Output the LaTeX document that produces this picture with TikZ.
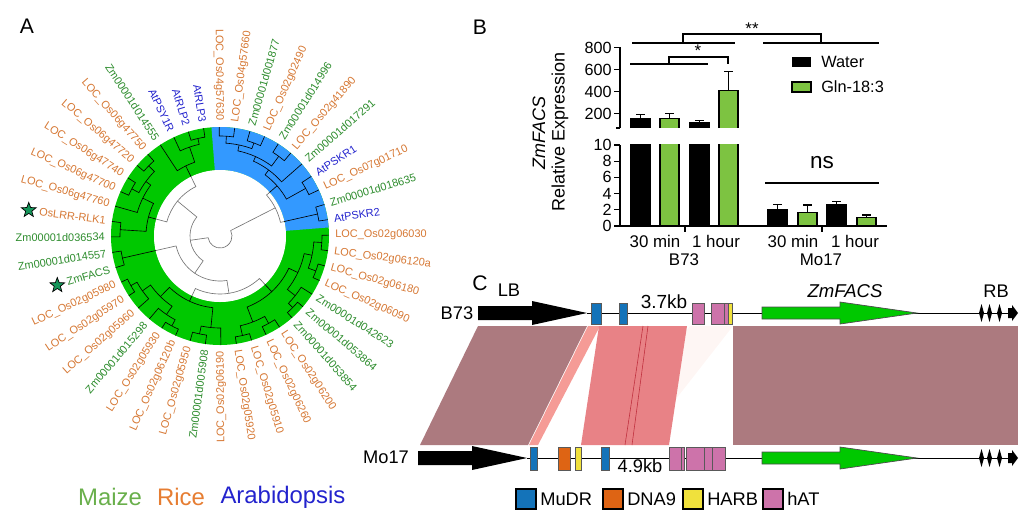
\documentclass[tikz,border=0pt]{standalone}
\usepackage{fontspec}
\setmainfont{Liberation Sans}
\usetikzlibrary{shapes.geometric}

\definecolor{ricetxt}{RGB}{214,120,52}
\definecolor{maizetxt}{RGB}{45,140,45}
\definecolor{arabtxt}{RGB}{35,35,205}
\definecolor{ringgreen}{RGB}{0,200,0}
\definecolor{ringblue}{RGB}{51,153,255}
\definecolor{stargreen}{RGB}{20,150,90}
\definecolor{legmaize}{RGB}{105,175,75}
\definecolor{legrice}{RGB}{230,125,50}
\definecolor{bargreen}{RGB}{125,195,65}
\definecolor{synmauve}{RGB}{172,122,127}
\definecolor{synpink}{RGB}{232,130,134}
\definecolor{synsalmon}{RGB}{245,155,150}
\definecolor{synfaint}{RGB}{254,246,244}
\definecolor{synred}{RGB}{190,45,60}
\definecolor{mudr}{RGB}{20,115,185}
\definecolor{dnanine}{RGB}{222,100,20}
\definecolor{harb}{RGB}{240,225,60}
\definecolor{hat}{RGB}{205,115,170}
\definecolor{genegreen}{RGB}{0,200,0}

% one clade: child 1 (position, radius), child 2 (position, radius), joining radius
\newcommand\clade[5]{%
  \draw ({90.5+8.18*(#1)}:#2) -- ({90.5+8.18*(#1)}:#5)
    arc[start angle={90.5+8.18*(#1)}, end angle={90.5+8.18*(#3)}, radius=#5]
    -- ({90.5+8.18*(#3)}:#4);}

\newcommand\treelines{%
  \clade{43}{109}{44}{109}{100}
  \clade{41}{109}{42}{109}{99}
  \clade{41.5}{99}{43.5}{100}{93}
  \clade{39}{109}{40}{109}{99}
  \clade{39.5}{99}{42.5}{93}{87}
  \clade{38}{109}{41}{87}{82}
  \clade{36}{109}{37}{109}{98}
  \clade{36.5}{98}{39.5}{82}{76}
  \clade{34}{109}{35}{109}{100}
  \clade{34.5}{100}{38}{76}{62}
  \clade{1}{109}{2}{109}{100}
  \clade{1.5}{100}{3}{109}{94}
  \clade{2.25}{94}{4}{109}{78}
  \clade{5}{109}{6}{109}{100}
  \clade{7}{109}{8}{109}{100}
  \clade{5.5}{100}{7.5}{100}{92}
  \clade{6.5}{92}{9}{109}{86}
  \clade{10}{109}{11}{109}{100}
  \clade{7.75}{86}{10.5}{100}{74}
  \clade{3.125}{78}{9.125}{74}{55}
  \clade{12}{109}{13}{109}{100}
  \clade{14}{109}{15}{109}{102}
  \clade{14.5}{102}{16}{109}{95}
  \clade{18}{109}{19}{109}{102}
  \clade{17}{109}{18.5}{102}{95}
  \clade{15.25}{95}{17.75}{95}{85}
  \clade{20}{109}{21}{109}{100}
  \clade{20.5}{100}{22}{109}{92}
  \clade{16.5}{85}{21.25}{92}{72}
  \clade{23}{109}{24}{109}{102}
  \clade{25}{109}{26}{109}{100}
  \clade{23.5}{102}{25.5}{100}{92}
  \clade{27}{109}{28}{109}{102}
  \clade{27.5}{102}{29}{109}{96}
  \clade{30}{109}{31}{109}{102}
  \clade{32}{109}{33}{109}{102}
  \clade{30.5}{102}{32.5}{102}{94}
  \clade{28.25}{96}{31.5}{94}{86}
  \clade{24.5}{92}{29.875}{86}{76}
  \clade{18.875}{72}{27.1875}{76}{58}
  \clade{12.5}{100}{23.03}{58}{45}
  \clade{6.125}{55}{17.77}{45}{30}
  \clade{11.95}{30}{36.25}{62}{12}}

\tikzset{
  panellbl/.style={font=\fontsize{15}{18}\selectfont},
  treeline/.style={black, line width=0.45pt},
  coreline/.style={black!55, line width=0.45pt},
  treelbl/.style={font=\fontsize{7.8}{9}\selectfont, inner sep=0pt},
  treestar/.style={star, star points=5, star point ratio=2.4, minimum size=11pt,
    inner sep=0pt, fill=stargreen, draw=black, line width=0.5pt},
  speclbl/.style={font=\fontsize{17}{20}\selectfont},
  axisline/.style={line width=0.9pt},
  barline/.style={line width=0.8pt},
  ticklbl/.style={font=\fontsize{11.5}{13}\selectfont, anchor=east, inner sep=0pt},
  chartlbl/.style={font=\fontsize{12}{14}\selectfont, inner sep=0pt},
  sigline/.style={line width=0.8pt},
  chrline/.style={line width=0.6pt},
  tebox/.style={draw=black!65, line width=0.5pt},
  genelbl/.style={font=\fontsize{13}{15}\selectfont, inner sep=0pt},
  legbox/.style={draw=black, line width=1.3pt}
}

\begin{document}
\begin{tikzpicture}[x=0.025cm, y=-0.025cm]
\useasboundingbox (0,0) rectangle (1026,522);

% ---- A: tree
\node[panellbl] (pA) at (27,26) {A};
\begin{scope}[shift={(220,236)}, y=0.025cm]
  \fill[ringgreen] (0,0) circle (109);
  \fill[ringblue] (4.5:66) -- (4.5:109) arc[start angle=4.5, end angle=94.5, radius=109]
    -- (94.5:66) arc[start angle=94.5, end angle=4.5, radius=66] -- cycle;
  \fill[white] (0,0) circle (66);
  \begin{scope}[treeline] \treelines \end{scope}
  \begin{scope}
    \clip (0,0) circle (65.6);
    \fill[white] (0,0) circle (66);
    \begin{scope}[coreline] \treelines \end{scope}
  \end{scope}
  \foreach \p/\txt/\col in {1/AtRLP3/arabtxt, 2/AtRLP2/arabtxt, 3/AtPSY1R/arabtxt,
      4/Zm00001d014555/maizetxt, 5/LOC\_Os06g47750/ricetxt, 6/LOC\_Os06g47720/ricetxt,
      7/LOC\_Os06g47740/ricetxt, 8/LOC\_Os06g47700/ricetxt, 9/LOC\_Os06g47760/ricetxt,
      10/OsLRR-RLK1/ricetxt, 11/Zm00001d036534/maizetxt, 12/Zm00001d014557/maizetxt,
      13/ZmFACS/maizetxt, 14/LOC\_Os02g05980/ricetxt, 15/LOC\_Os02g05970/ricetxt,
      16/LOC\_Os02g05960/ricetxt, 17/Zm00001d015298/maizetxt, 18/LOC\_Os02g05930/ricetxt,
      19/LOC\_Os02g06120b/ricetxt, 20/LOC\_Os02g05950/ricetxt, 21/Zm00001d005908/maizetxt,
      22/LOC\_Os02g06190/ricetxt, 23/LOC\_Os02g05920/ricetxt, 24/LOC\_Os02g05910/ricetxt,
      25/LOC\_Os02g06260/ricetxt, 26/LOC\_Os02g06200/ricetxt, 27/Zm00001d053854/maizetxt,
      28/Zm00001d053864/maizetxt, 29/Zm00001d042623/maizetxt, 30/LOC\_Os02g06090/ricetxt,
      31/LOC\_Os02g06180/ricetxt, 32/LOC\_Os02g06120a/ricetxt, 33/LOC\_Os02g06030/ricetxt,
      34/AtPSKR2/arabtxt, 35/Zm00001d018635/maizetxt, 36/LOC\_Os07g01710/ricetxt,
      37/AtPSKR1/arabtxt, 38/Zm00001d017291/maizetxt, 39/LOC\_Os02g41890/ricetxt,
      40/Zm00001d014996/maizetxt, 41/LOC\_Os02g02490/ricetxt, 42/Zm00001d001877/maizetxt,
      43/LOC\_Os04g57660/ricetxt, 44/LOC\_Os04g57630/ricetxt}{
    \pgfmathsetmacro\ang{90.5+8.18*\p}
    \pgfmathsetmacro\angm{mod(\ang,360)}
    \pgfmathtruncatemacro\flip{(\angm>89)*(\angm<271)}
    \ifnum\flip=1
      \pgfmathsetmacro\rot{\angm-180}
      \node[treelbl, text=\col, rotate=\rot, anchor=east] (leaf\p) at (\ang:115) {\txt};
    \else
      \node[treelbl, text=\col, rotate=\ang, anchor=west] (leaf\p) at (\ang:115) {\txt};
    \fi
  }
  \node[treestar] (starLRR) at ({90.5+8.18*10}:193) {};
  \node[treestar] (starFACS) at ({90.5+8.18*13}:170) {};
\end{scope}
\node[speclbl, text=legmaize] (spMaize) at (110,497) {Maize};
\node[speclbl, text=legrice] (spRice) at (181,497) {Rice};
\node[speclbl, text=arabtxt] (spArab) at (283,497) {Arabidopsis};

% ---- B: expression chart
\node[panellbl] (pB) at (480,27) {B};
\foreach \bx/\bc/\bv/\be in {631/black/156/193, 660/bargreen/156/202, 690/black/116/135, 719/bargreen/407/580}{
  \fill[\bc] (\bx,128) rectangle (\bx+19,{135.5-0.11*\bv});
  \draw[barline] (\bx,128) -- (\bx,{135.5-0.11*\bv}) -- (\bx+19,{135.5-0.11*\bv}) -- (\bx+19,128);
  \draw[barline] (\bx+9.5,{135.5-0.11*\bv}) -- (\bx+9.5,{135.5-0.11*\be})
    (\bx+5,{135.5-0.11*\be}) -- (\bx+14,{135.5-0.11*\be});
  \fill[\bc] (\bx,144) rectangle (\bx+19,226);
  \draw[barline] (\bx,144) -- (\bx,226) (\bx+19,144) -- (\bx+19,226);
}
\foreach \bx/\bc/\bv/\be in {768/black/2.0/2.7, 798/bargreen/1.7/2.6, 827/black/2.6/3.0, 857/bargreen/1.07/1.36}{
  \filldraw[barline, fill=\bc] (\bx,226) rectangle (\bx+19,{226-8.1*\bv});
  \draw[barline] (\bx+9.5,{226-8.1*\bv}) -- (\bx+9.5,{226-8.1*\be})
    (\bx+5,{226-8.1*\be}) -- (\bx+14,{226-8.1*\be});
}
\draw[axisline] (620,47) -- (620,128) (616,128) -- (620,128);
\draw[axisline] (620,145) -- (620,226) -- (887,226);
\draw[axisline] (685,226) -- (685,232) (822,226) -- (822,232);
\foreach \v in {200,400,600,800}{
  \draw[axisline] (614,{135.5-0.11*\v}) -- (620,{135.5-0.11*\v});
  \node[ticklbl] (tkU\v) at (612,{135.5-0.11*\v}) {\v};
}
\foreach \v in {0,2,...,10}{
  \draw[axisline] (614,{226-8.1*\v}) -- (620,{226-8.1*\v});
  \node[ticklbl] (tkL\v) at (612,{226-8.1*\v}) {\v};
}
\node[chartlbl, rotate=90, font=\fontsize{12.8}{15}\selectfont\itshape] (ylabA) at (539,133) {ZmFACS};
\node[chartlbl, rotate=90, font=\fontsize{12.8}{15}\selectfont] (ylabB) at (560,132) {Relative Expression};
\node[chartlbl] (xB1) at (655,241) {30 min};
\node[chartlbl] (xB2) at (716,241) {1 hour};
\node[chartlbl] (xB) at (684,260) {B73};
\node[chartlbl] (xM1) at (793,241) {30 min};
\node[chartlbl] (xM2) at (855,241) {1 hour};
\node[chartlbl] (xM) at (821,260) {Mo17};
\draw[sigline] (630,64) -- (708,64) (669,64) -- (669,57) -- (728,57) -- (728,64);
\node[chartlbl] (sigOne) at (698,51) {*};
\draw[sigline] (632,43) -- (735,43) (683,43) -- (683,34) -- (821,34) -- (821,43) (763,43) -- (879,43);
\node[chartlbl] (sigTwo) at (752,29) {**};
\draw[sigline] (765,183) -- (879,183);
\node[chartlbl, font=\fontsize{16}{18}\selectfont] (sigNs) at (822,163) {ns};
\fill[black] (792,57) rectangle (811,67);
\filldraw[barline, fill=bargreen] (792,82) rectangle (811,92);
\node[chartlbl, anchor=west, font=\fontsize{11.6}{13}\selectfont] (legWater) at (821,62) {Water};
\node[chartlbl, anchor=west, font=\fontsize{11.6}{13}\selectfont] (legGln) at (821,87) {Gln-18:3};

% ---- C: synteny
\node[panellbl] (pC) at (480,283) {C};
\fill[synfaint] (690,326) -- (733,326) -- (640,445) -- (600,445) -- cycle;
\fill[synmauve] (478,326) -- (587,326) -- (528,445) -- (420,445) -- cycle;
\fill[synsalmon] (588,326) -- (600,326) -- (538,445) -- (529,445) -- cycle;
\fill[synpink] (599,326) -- (687,326) -- (669,445) -- (581,445) -- cycle;
\draw[synred, line width=0.4pt] (643,326) -- (625,445) (648,326) -- (632,445);
\fill[synmauve] (733,326) rectangle (1018,445);
\draw[chrline] (587,313) -- (1010,313);
\draw[chrline] (527,458) -- (1010,458);
\fill[black] (478,306) -- (532,306) -- (532,301) -- (587,313) -- (532,325) -- (532,320) -- (478,320) -- cycle;
\fill[black] (418,451) -- (472,451) -- (472,446) -- (527,458) -- (472,470) -- (472,465) -- (418,465) -- cycle;
\foreach \ry in {313,458}{
  \filldraw[fill=genegreen, draw=black!70, line width=0.5pt] (762,\ry-6) -- (840,\ry-6) -- (840,\ry-11)
    -- (917,\ry) -- (840,\ry+11) -- (840,\ry+6) -- (762,\ry+6) -- cycle;
  \foreach \sx in {981.5,989.5,999.5}
    \fill[black] (\sx-2.5,\ry) -- (\sx,\ry-9) -- (\sx+2.5,\ry) -- (\sx,\ry+9) -- cycle;
  \fill[black] (1008,\ry-5) -- (1012,\ry-5) -- (1012,\ry-8) -- (1018,\ry) -- (1012,\ry+8)
    -- (1012,\ry+5) -- (1008,\ry+5) -- cycle;
}
% B73 elements
\filldraw[tebox, fill=mudr] (591,303) rectangle (601,324);
\filldraw[tebox, fill=mudr] (619,303) rectangle (627,324);
\filldraw[tebox, fill=hat] (692,303) rectangle (704,324);
\filldraw[tebox, fill=hat] (711,303) rectangle (728,324);
\draw[tebox] (724,303) -- (724,324);
\filldraw[tebox, fill=harb] (728,303) rectangle (732,324);
% Mo17 elements
\filldraw[tebox, fill=mudr] (530,447) rectangle (537,470);
\filldraw[tebox, fill=dnanine] (558,447) rectangle (570,470);
\filldraw[tebox, fill=harb] (575,447) rectangle (581,470);
\filldraw[tebox, fill=mudr] (601,447) rectangle (609,470);
\filldraw[tebox, fill=hat] (669,447) rectangle (684,470);
\draw[tebox] (681,447) -- (681,470);
\filldraw[tebox, fill=hat] (686,447) rectangle (725,470);
\draw[tebox] (704,447) -- (704,470) (712,447) -- (712,470);
\node[genelbl] (nB73) at (457,313) {B73};
\node[genelbl] (nMo17) at (386,457) {Mo17};
\node[genelbl] (nLB) at (509,290) {LB};
\node[genelbl] (nRB) at (996,291) {RB};
\node[genelbl, font=\fontsize{13.2}{15}\selectfont\itshape] (nFACS) at (845,291) {ZmFACS};
\node[genelbl, font=\fontsize{13.5}{15}\selectfont] (nKbB) at (664,302) {3.7kb};
\node[genelbl] (nKbM) at (640,466) {4.9kb};
\foreach \lx/\lc/\lt in {516/mudr/MuDR, 603/dnanine/DNA9, 683/harb/HARB, 763/hat/hAT}{
  \filldraw[legbox, fill=\lc] (\lx,489) rectangle (\lx+20,509);
  \node[genelbl, anchor=west] (leg\lt) at (\lx+24,499) {\lt};
}
\end{tikzpicture}
\end{document}
